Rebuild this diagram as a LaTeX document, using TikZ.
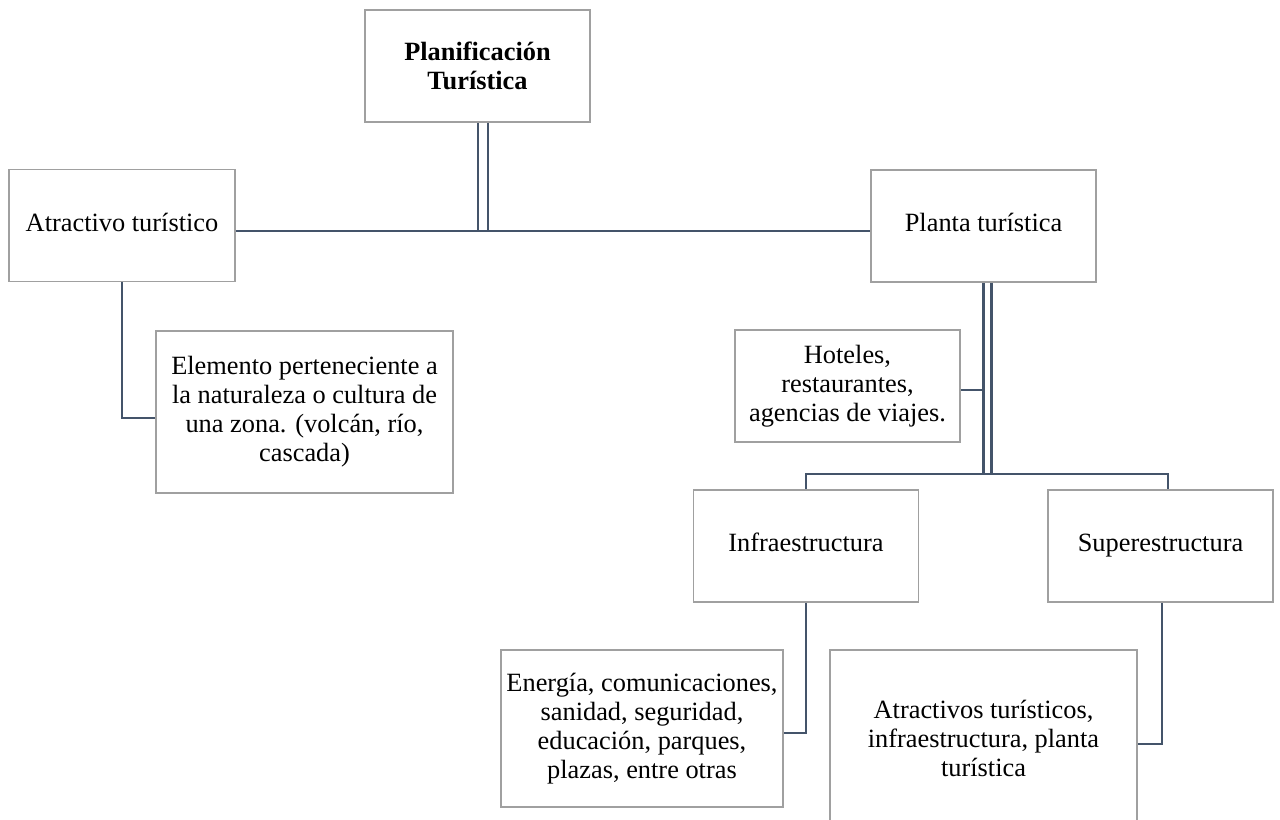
\documentclass[tikz,border=0pt]{standalone}
\usepackage{fontspec}
\setmainfont{Liberation Serif}
\usetikzlibrary{positioning, calc}
\definecolor{linkcol}{HTML}{44546A}
\definecolor{boxcol}{HTML}{A0A0A0}

\begin{document}
\begin{tikzpicture}
        % Styles
        \tikzstyle{concept} = [draw=boxcol, line width=1pt, minimum width=4.5cm, minimum height=2.24cm,
                               align=center, inner sep=2pt, font=\fontsize{15}{16.5}\selectfont]
        \tikzstyle{link} = [draw=linkcol, line width=1.3pt]
        \tikzstyle{twinlink} = [link, double=white]

        % Page frame
        \clip (0,0) rectangle (25.6,-16.4);

        % Top level
        \node[concept, font=\bfseries\fontsize{15}{16.5}\selectfont] (plan) at (9.55,-1.32) {Planificación\\Turística};

        % Second level
        \node[concept, minimum width=4.52cm] (atrac) at (2.44,-4.51) {Atractivo turístico\strut};
        \node[concept] (planta) at (19.67,-4.52) {Planta turística\strut};

        % Details below Atractivo turístico and Planta turística
        \node[concept, minimum width=5.94cm, minimum height=3.24cm] (elem) at (6.09,-8.24)
            {Elemento perteneciente a\\la naturaleza o cultura de\\una zona. (volcán, río,\\cascada)};
        \node[concept] (hotel) at (16.95,-7.72) {Hoteles,\\restaurantes,\\agencias de viajes.};

        % Third level
        \node[concept] (infra) at (16.12,-10.92) {Infraestructura\strut};
        \node[concept] (super) at (23.21,-10.92) {Superestructura\strut};

        % Details below Infraestructura and Superestructura
        \node[concept, minimum width=5.64cm, minimum height=3.14cm] (energ) at (12.84,-14.57)
            {Energía, comunicaciones,\\sanidad, seguridad,\\educación, parques,\\plazas, entre otras};
        \node[concept, minimum width=6.14cm, minimum height=3.52cm] (atrs) at (19.67,-14.76)
            {Atractivos turísticos,\\infraestructura, planta\\turística};

        % Junction points of the tree
        \coordinate (hub) at (9.66,-4.62);
        \coordinate (split) at (19.75,-9.48);

        % Title down to the second level
        \draw[twinlink, double distance=0.16cm] (plan.south -| hub) -- (hub);
        \draw[link] (atrac.east |- hub) -- (planta.west |- hub);

        % Planta turística down to hotels and third level (hotel link first, twin line covers it)
        \draw[link] (hotel.east) ++(0,-0.08) -- ($(hotel.east -| split)+(0,-0.08)$);
        \draw[twinlink, double distance=0.11cm] (planta.south -| split) -- (split);
        \draw[link] (infra.north) |- (split) -| ([xshift=0.15cm]super.north);

        % Leaves
        \draw[link] (atrac.south) |- ([yshift=-0.12cm]elem.west);
        \draw[link] (infra.south) |- ([yshift=-0.09cm]energ.east);
        \draw[link] ([xshift=0.03cm]super.south) |- ([yshift=-0.12cm]atrs.east);
\end{tikzpicture}
\end{document}
